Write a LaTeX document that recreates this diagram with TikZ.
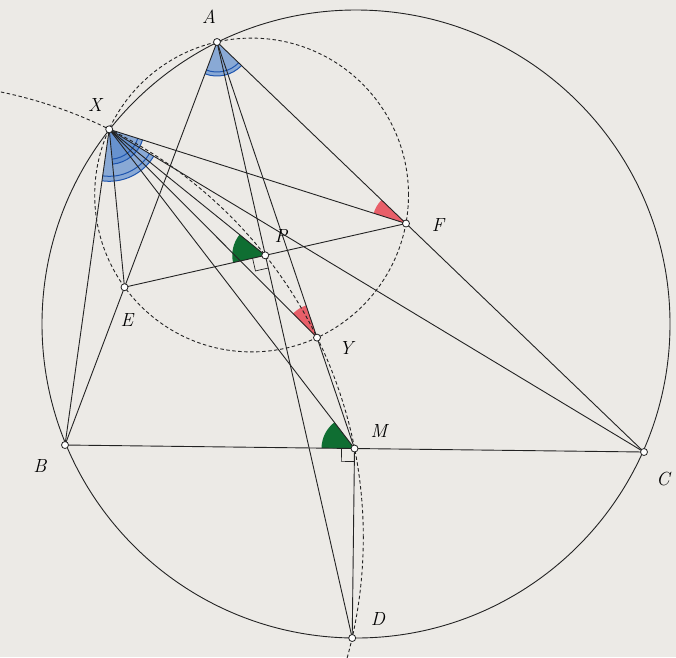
\documentclass[tikz,border=0pt]{standalone}
\usetikzlibrary{angles,calc}
\definecolor{bg}{RGB}{236,234,230}
\definecolor{ln}{RGB}{35,35,35}
\definecolor{bluefill}{RGB}{85,135,205}
\definecolor{blueline}{RGB}{30,85,175}
\definecolor{redfill}{RGB}{232,95,105}
\definecolor{greenfill}{RGB}{15,110,50}
\begin{document}
\begin{tikzpicture}[x=1pt,y=-1pt,
  ln/.style={draw=ln,line width=0.9pt},
  dsh/.style={draw=ln,line width=0.9pt,dash pattern=on 3.5pt off 2.5pt},
  dot/.style={circle,draw=ln,fill=white,line width=0.8pt,inner sep=0pt,minimum size=7pt},
  lab/.style={font=\fontsize{19}{22}\selectfont\itshape,inner sep=0pt},
  bluewedge/.style={fill=bluefill,fill opacity=0.65},
  bluearc/.style={draw=blueline,line width=1pt},
  redwedge/.style={fill=redfill,angle radius=34pt},
  greenwedge/.style={fill=greenfill,angle radius=33pt},
  rightmark/.style={draw=ln,line width=0.7pt,angle radius=13pt}]
\fill[bg] (0,0) rectangle (676,657);
\useasboundingbox (0,0) rectangle (676,657);
% points
\coordinate (A) at (217,42);
\coordinate (B) at (65,445);
\coordinate (C) at (644,452);
\coordinate (X) at (109.2,129.3);
\coordinate (E) at (124.5,287.2);
\coordinate (F) at (406,223.5);
\coordinate (P) at (265.25,255.35);
\coordinate (M) at (354.5,448.5);
\coordinate (D) at (352.2,638);
\coordinate (Y) at (317,337.6);
\coordinate (O) at (356,324);
\coordinate (Q) at (251.6,195);
\coordinate (K) at (-91.5,537.4);
% angle marks
\pic[bluewedge,angle radius=34pt] {angle=B--A--C};
\pic[bluearc,angle radius=34pt] {angle=B--A--C};
\pic[bluearc,angle radius=30pt] {angle=B--A--C};
\pic[bluewedge,angle radius=52pt] {angle=B--X--C};
\pic[bluewedge,angle radius=35pt] {angle=E--X--F};
\pic[bluearc,angle radius=52pt] {angle=B--X--C};
\pic[bluearc,angle radius=47pt] {angle=B--X--C};
\pic[bluearc,angle radius=35pt] {angle=E--X--F};
\pic[bluearc,angle radius=30pt] {angle=E--X--F};
\pic[redwedge] {angle=A--F--X};
\pic[redwedge] {angle=A--Y--X};
\pic[greenwedge] {angle=X--P--E};
\pic[greenwedge] {angle=X--M--B};
% circles
\draw[ln] (O) circle[radius=314pt];
\draw[dsh] (Q) circle[radius=156.9pt];
\begin{scope}
  \clip (0,0) rectangle (676,657);
  \draw[dsh] (K) circle[radius=454.8pt];
\end{scope}
% segments
\draw[ln] (A) -- (B) -- (C) -- cycle;
\draw[ln] (A) -- (D);
\draw[ln] (A) -- (M) -- (D);
\draw[ln] (E) -- (F);
\draw[ln] (X) -- (B);
\draw[ln] (X) -- (E);
\draw[ln] (X) -- (F);
\draw[ln] (X) -- (C);
\draw[ln] (X) -- (P);
\draw[ln] (X) -- (Y);
\draw[ln] (X) -- (M);
% right angles
\pic[rightmark] {right angle=E--P--D};
\pic[rightmark] {right angle=B--M--D};
% dots
\foreach \p in {A,B,C,X,E,F,P,M,D,Y} \node[dot] (d\p) at (\p) {};
% labels
\node[lab] (lA) at (209,17) {A};
\node[lab] (lX) at (95,105) {X};
\node[lab] (lF) at (438,225) {F};
\node[lab] (lP) at (281,236) {P};
\node[lab] (lE) at (127,320) {E};
\node[lab] (lY) at (346,348) {Y};
\node[lab] (lM) at (379,431) {M};
\node[lab] (lB) at (40,466) {B};
\node[lab] (lC) at (663,479) {C};
\node[lab] (lD) at (378,619) {D};
\end{tikzpicture}
\end{document}
